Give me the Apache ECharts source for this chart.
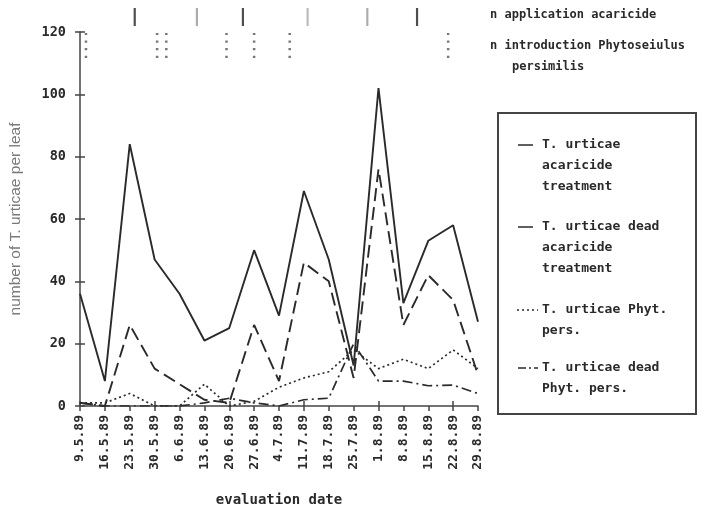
<!DOCTYPE html>
<html><head><meta charset="utf-8">
<script src="https://cdn.jsdelivr.net/npm/echarts@6/dist/echarts.min.js"></script>
<style>html,body{margin:0;padding:0;background:#fff}#c{width:717px;height:512px}</style>
</head><body><div id="c"></div>
<script>
// ---- data ----
const dates = ['9.5.89','16.5.89','23.5.89','30.5.89','6.6.89','13.6.89','20.6.89','27.6.89','4.7.89','11.7.89','18.7.89','25.7.89','1.8.89','8.8.89','15.8.89','22.8.89','29.8.89'];
const acaricide     = [36, 8, 84, 47, 36, 21, 25, 50, 29, 69, 47, 13, 102, 33, 53, 58, 27];
const deadAcaricide = [1, 0, 26, 12, 7, 2, 1, 26, 8, 46, 40, 9, 76, 26, 42, 34, 10];
const phyt          = [1, 1, 4, 0, 0, 7, 0, 1.5, 6, 9, 11, 18, 12, 15, 12, 18, 12];
const deadPhyt      = [1, 0, 0, 0, 0, 1, 2.5, 1, 0, 2, 2.5, 20, 8, 8, 6.5, 6.7, 4];
const yMin = 0, yMax = 120, yStep = 20;
// event positions, in weeks after 9.5.89
const applicationWeeks  = [2.2, 4.7, 6.55, 9.15, 11.55, 13.55];
const introductionWeeks = [0.24, 3.1, 3.47, 5.89, 7.0, 8.43, 14.8];
const seriesNames = ['T. urticae acaricide treatment','T. urticae dead acaricide treatment','T. urticae Phyt. pers.','T. urticae dead Phyt. pers.'];

// ---- styles ----
const ink = '#2a2a2a';
const mono = 'DejaVu Sans Mono';
const appShades = ['#222','#999','#222','#aaa','#999','#222'];
const lineW = 1.9;
const dashes = ['solid', [13, 6], [2, 3], [10, 4, 2, 4]];

const chart = echarts.init(document.getElementById('c'));
const lineSeries = [acaricide, deadAcaricide, phyt, deadPhyt].map((d, i) => ({
  name: seriesNames[i], type: 'line', data: d, xAxisIndex: 0, yAxisIndex: 0,
  symbol: 'none', lineStyle: {color: ink, width: i >= 2 ? 1.7 : lineW, type: dashes[i]}, z: 3
}));

const legendItems = [
  {lines: ['T. urticae', 'acaricide', 'treatment'], y: 145, dash: null, x1: 518, x2: 533},
  {lines: ['T. urticae dead', 'acaricide', 'treatment'], y: 227, dash: null, x1: 518, x2: 533},
  {lines: ['T. urticae Phyt.', 'pers.'], y: 310, dash: [2, 3], x1: 517, x2: 538},
  {lines: ['T. urticae dead', 'Phyt. pers.'], y: 368, dash: [8, 3, 2, 3], x1: 518, x2: 538}
];
const graphics = [
  {type: 'rect', shape: {x: 498, y: 113, width: 198, height: 301}, style: {fill: 'none', stroke: '#444', lineWidth: 2}},
  {type: 'text', x: 490, y: 15, style: {text: 'n application acaricide', font: 'bold 12px ' + mono, fill: ink, verticalAlign: 'middle'}},
  {type: 'text', x: 490, y: 46, style: {text: 'n introduction Phytoseiulus', font: 'bold 12px ' + mono, fill: ink, verticalAlign: 'middle'}},
  {type: 'text', x: 512, y: 67, style: {text: 'persimilis', font: 'bold 12px ' + mono, fill: ink, verticalAlign: 'middle'}}
];
legendItems.forEach(it => {
  graphics.push({type: 'line', shape: {x1: it.x1, y1: it.y, x2: it.x2, y2: it.y},
    style: {stroke: ink, lineWidth: 1.5, lineDash: it.dash || null}});
  it.lines.forEach((t, k) => graphics.push({type: 'text', x: 542, y: it.y + k * 21,
    style: {text: t, font: 'bold 13px ' + mono, fill: ink, verticalAlign: 'middle'}}));
});

chart.setOption({
  animation: false,
  backgroundColor: '#fff',
  grid: [
    {left: 80, right: 239, top: 32, bottom: 99},
    {left: 80, right: 239, top: 8, height: 18}
  ],
  xAxis: [
    {type: 'category', gridIndex: 0, data: dates, boundaryGap: false,
     axisLine: {lineStyle: {color: '#444', width: 1.5}},
     axisTick: {show: true, length: 5, lineStyle: {color: '#444', width: 1.5}},
     axisLabel: {rotate: 90, margin: 9, color: ink, fontFamily: mono, fontWeight: 'bold', fontSize: 13, interval: 0},
     name: 'evaluation date', nameLocation: 'middle', nameGap: 87,
     nameTextStyle: {color: ink, fontFamily: mono, fontWeight: 'bold', fontSize: 14}},
    {type: 'category', gridIndex: 0, data: dates, boundaryGap: false, position: 'bottom',
     axisLine: {show: false}, axisLabel: {show: false},
     axisTick: {show: true, inside: true, length: 5, lineStyle: {color: '#444', width: 1.5}}},
    {type: 'value', gridIndex: 0, min: 0, max: dates.length - 1, show: false},
    {type: 'value', gridIndex: 1, min: 0, max: dates.length - 1, show: false}
  ],
  yAxis: [
    {type: 'value', gridIndex: 0, min: yMin, max: yMax, interval: yStep,
     splitLine: {show: false},
     axisLine: {show: true, lineStyle: {color: '#444', width: 1.5}},
     axisTick: {show: true, length: 5, lineStyle: {color: '#444', width: 1.5}},
     axisLabel: {margin: 14, color: ink, fontFamily: mono, fontWeight: 'bold', fontSize: 13.5},
     name: 'number of T. urticae per leaf', nameLocation: 'middle', nameGap: 56,
     nameTextStyle: {color: '#7a7a7a', fontFamily: 'Liberation Sans', fontSize: 15.5}},
    {type: 'value', gridIndex: 0, min: yMin, max: yMax, interval: yStep, position: 'left',
     splitLine: {show: false}, axisLine: {show: false}, axisLabel: {show: false},
     axisTick: {show: true, inside: true, length: 5, lineStyle: {color: '#444', width: 1.5}}},
    {type: 'value', gridIndex: 1, min: 0, max: 1, show: false}
  ],
  series: lineSeries.concat([
    {type: 'scatter', xAxisIndex: 2, yAxisIndex: 0, silent: true,
     data: introductionWeeks.map(w => [w, 115.7]),
     symbol: 'path://M0,0h2v2h-2z M0,7h2v2h-2z M0,14h2v2h-2z M0,21h2v2h-2z',
     symbolSize: [2.5, 25], itemStyle: {color: '#555'}},
    {type: 'scatter', xAxisIndex: 3, yAxisIndex: 2, silent: true,
     data: applicationWeeks.map(w => [w, 0.5]),
     symbol: 'rect', symbolSize: [2.2, 18],
     itemStyle: {color: p => appShades[p.dataIndex % appShades.length]}}
  ]),
  graphic: graphics
});
</script></body></html>
